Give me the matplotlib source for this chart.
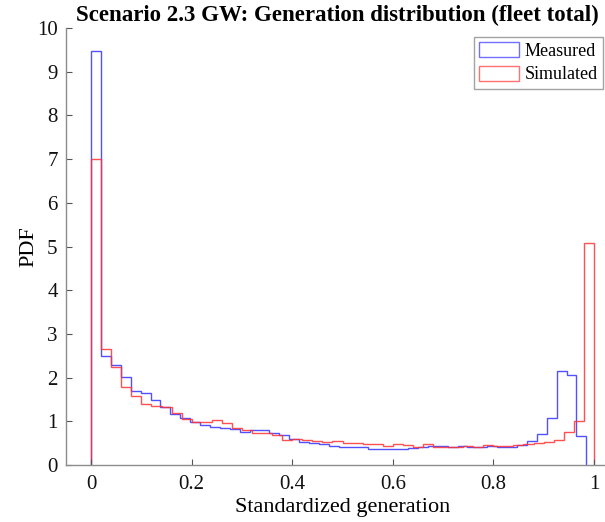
import numpy as np
import matplotlib
matplotlib.use("Agg")
import matplotlib.pyplot as plt
from matplotlib.patches import Patch

# Bin definitions
measured_range = (0.0, 0.985)
simulated_range = (0.0, 1.0)
n_bins = 50

measured = [9.47, 2.49, 2.28, 2.02, 1.69, 1.64, 1.49, 1.32, 1.16, 1.07,
            0.99, 0.915, 0.88, 0.85, 0.82, 0.755, 0.80, 0.80, 0.725, 0.68,
            0.60, 0.53, 0.50, 0.47, 0.435, 0.42, 0.42, 0.42, 0.37, 0.37,
            0.37, 0.37, 0.40, 0.41, 0.435, 0.435, 0.42, 0.435, 0.42, 0.42,
            0.435, 0.42, 0.42, 0.46, 0.56, 0.70, 1.07, 2.16, 2.06, 0.66]
simulated = [7.0, 2.66, 2.25, 1.79, 1.59, 1.40, 1.34, 1.33, 1.18, 1.05,
             0.98, 0.98, 1.03, 0.95, 0.84, 0.80, 0.74, 0.74, 0.68, 0.57,
             0.60, 0.58, 0.56, 0.53, 0.55, 0.51, 0.50, 0.47, 0.47, 0.435,
             0.47, 0.46, 0.41, 0.47, 0.42, 0.42, 0.42, 0.435, 0.42, 0.46,
             0.435, 0.435, 0.45, 0.47, 0.50, 0.53, 0.57, 0.76, 1.01, 5.07]

xticks = [0, 0.2, 0.4, 0.6, 0.8, 1]
xticklabels = ["0", "0.2", "0.4", "0.6", "0.8", "1"]
yticks = list(range(0, 11))

plt.rcParams['font.family'] = ['Liberation Serif', 'DejaVu Serif']

W, H = 605, 522
fig = plt.figure(figsize=(W / 100, H / 100), dpi=100)
ax_left, ax_right, ax_top, ax_bottom = 66, 619, 28, 465
ax = fig.add_axes([ax_left / W, 1 - ax_bottom / H, (ax_right - ax_left) / W, (ax_bottom - ax_top) / H])

edges_m = np.linspace(measured_range[0], measured_range[1], n_bins + 1)
edges_s = np.linspace(simulated_range[0], simulated_range[1], n_bins + 1)

blue = (0.2, 0.2, 1.0)
red = (1.0, 0.2, 0.2)
ax.stairs(measured, edges_m, color=blue, linewidth=1.0, alpha=0.85)
ax.stairs(simulated, edges_s, color=red, linewidth=1.0, alpha=0.85)

ax.set_xlim(-0.05, 1.05)
ax.set_ylim(0, 10)
ax.set_xticks(xticks)
ax.set_xticklabels(xticklabels)
ax.set_yticks(yticks)

for s in ['top', 'right']:
    ax.spines[s].set_visible(False)
for s in ['left', 'bottom']:
    ax.spines[s].set_color('#8c8c8c')
    ax.spines[s].set_linewidth(1.0)
ax.tick_params(direction='in', length=4, width=0.8, color='#555555', labelsize=15, labelcolor='#111111')
ax.tick_params(axis='x', pad=7)
ax.tick_params(axis='y', pad=6)

ax.set_xlabel('Standardized generation', fontsize=16, labelpad=3)
ax.set_ylabel('PDF', fontsize=16)
ax.yaxis.set_label_coords((38 - ax_left) / (ax_right - ax_left), 0.5)
fig.text(337 / W, 1 - 15 / H, 'Scenario 2.3 GW: Generation distribution (fleet total)',
         ha='center', va='center', fontsize=16.5, fontweight='bold')

handles = [Patch(facecolor='none', edgecolor=blue, alpha=0.7, linewidth=1.0, label='Measured'),
           Patch(facecolor='none', edgecolor=red, alpha=0.7, linewidth=1.0, label='Simulated')]
leg = ax.legend(handles=handles, loc='upper right', bbox_to_anchor=(603 / W, 1 - 37 / H),
                bbox_transform=fig.transFigure, fontsize=13, frameon=True,
                fancybox=False, edgecolor='#8c8c8c', borderpad=0.3,
                handlelength=2.2, handleheight=0.9, handletextpad=0.3,
                labelspacing=0.3, borderaxespad=0)
leg.get_frame().set_linewidth(1.0)

fig.savefig('out.png', dpi=100)
